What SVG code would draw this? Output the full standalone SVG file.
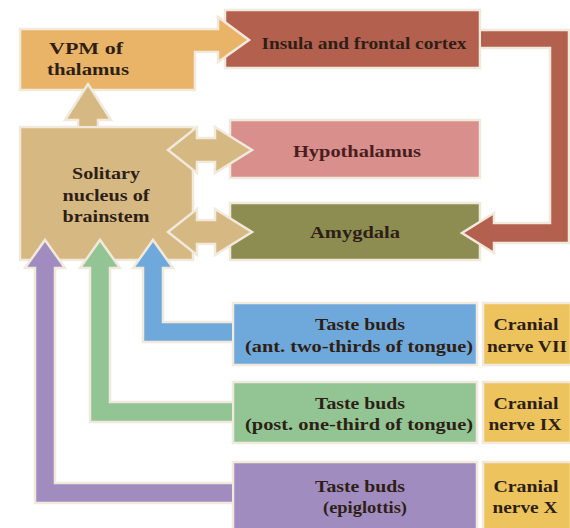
<svg xmlns="http://www.w3.org/2000/svg" width="570" height="528" viewBox="0 0 570 528">
<style>
.s{stroke:#f1e9dc;stroke-width:2.5;stroke-linejoin:miter}
.t{font-family:"Liberation Serif","Times New Roman",serif;font-size:16.5px;font-weight:bold;fill:#2e1f16;text-anchor:middle}
</style>
<rect width="570" height="528" fill="#ffffff"/>
<g id="insula">
<rect class="s" x="225" y="10" width="255" height="58" fill="#b4604f"/>
<text class="t" x="364" y="49" textLength="205" lengthAdjust="spacingAndGlyphs">Insula and frontal cortex</text>
</g>
<g id="vpm">
<path class="s" fill="#e9b468" d="M20,29 H218 V17 L249,40 L218,62 V52 H195 V90 H20 Z"/>
<text class="t" x="86" y="54" textLength="74" lengthAdjust="spacingAndGlyphs">VPM of</text>
<text class="t" x="88" y="75" textLength="82" lengthAdjust="spacingAndGlyphs">thalamus</text>
</g>
<g id="hypothalamus">
<rect class="s" x="230" y="120" width="250" height="58" fill="#d98f8c"/>
<text class="t" x="357" y="157" textLength="128" lengthAdjust="spacingAndGlyphs" style="fill:#4a1e1e">Hypothalamus</text>
</g>
<g id="amygdala">
<rect class="s" x="230" y="203" width="250" height="57" fill="#8d8d52"/>
<text class="t" x="355" y="238" textLength="90" lengthAdjust="spacingAndGlyphs">Amygdala</text>
</g>
<g id="solitary">
<rect class="s" x="20" y="127" width="173" height="133" fill="#d6b882"/>
<text class="t" x="106" y="179" textLength="68" lengthAdjust="spacingAndGlyphs">Solitary</text>
<text class="t" x="106" y="201" textLength="87" lengthAdjust="spacingAndGlyphs">nucleus of</text>
<text class="t" x="106" y="222" textLength="87" lengthAdjust="spacingAndGlyphs">brainstem</text>
</g>
<g id="taste-ant">
<rect class="s" x="233" y="303" width="244" height="62" fill="#6fa9db"/>
<text class="t" x="360" y="330" textLength="90" lengthAdjust="spacingAndGlyphs">Taste buds</text>
<text class="t" x="359" y="352" textLength="228" lengthAdjust="spacingAndGlyphs">(ant. two-thirds of tongue)</text>
</g>
<g id="cn7">
<rect class="s" x="483" y="303" width="88" height="62" fill="#edc35e"/>
<text class="t" x="526" y="330" textLength="65" lengthAdjust="spacingAndGlyphs">Cranial</text>
<text class="t" x="527" y="352" textLength="80" lengthAdjust="spacingAndGlyphs">nerve VII</text>
</g>
<g id="taste-post">
<rect class="s" x="233" y="382" width="244" height="61" fill="#92c593"/>
<text class="t" x="360" y="409" textLength="90" lengthAdjust="spacingAndGlyphs">Taste buds</text>
<text class="t" x="359" y="430" textLength="228" lengthAdjust="spacingAndGlyphs">(post. one-third of tongue)</text>
</g>
<g id="cn9">
<rect class="s" x="483" y="382" width="88" height="61" fill="#edc35e"/>
<text class="t" x="526" y="409" textLength="65" lengthAdjust="spacingAndGlyphs">Cranial</text>
<text class="t" x="525" y="430" textLength="73" lengthAdjust="spacingAndGlyphs">nerve IX</text>
</g>
<g id="taste-epi">
<rect class="s" x="233" y="462" width="244" height="68" fill="#a18cc0"/>
<text class="t" x="360" y="492" textLength="90" lengthAdjust="spacingAndGlyphs">Taste buds</text>
<text class="t" x="365" y="513" textLength="84" lengthAdjust="spacingAndGlyphs">(epiglottis)</text>
</g>
<g id="cn10">
<rect class="s" x="483" y="462" width="88" height="68" fill="#edc35e"/>
<text class="t" x="526" y="492" textLength="65" lengthAdjust="spacingAndGlyphs">Cranial</text>
<text class="t" x="525" y="513" textLength="65" lengthAdjust="spacingAndGlyphs">nerve X</text>
</g>
<g id="connectors">
<path class="s" fill="#b4604f" d="M481,30 H569 V243 H494 V253 L462,233 L494,213 V223 H550 V48 H481"/>
<path class="s" fill="#6fa9db" d="M232,322 H163 V268 H173 L153,240 L133,268 H143 V342 H232"/>
<path class="s" fill="#92c593" d="M232,402 H110 V268 H120 L100,240 L80,268 H90 V422 H232"/>
<path class="s" fill="#a18cc0" d="M232,483 H55 V268 H65 L45,240 L25,268 H35 V503 H232"/>
<path class="s" fill="#d6b882" d="M78,126 V120 H65 L88,84 L111,120 H98 V126"/>
<path class="s" fill="#d6b882" d="M168,150 L197,127 V138 H215 V127 L252,150 L215,173 V162 H197 V173 Z"/>
<path class="s" fill="#d6b882" d="M168,232 L197,209 V220 H215 V209 L252,232 L215,255 V244 H197 V255 Z"/>
</g>
</svg>
